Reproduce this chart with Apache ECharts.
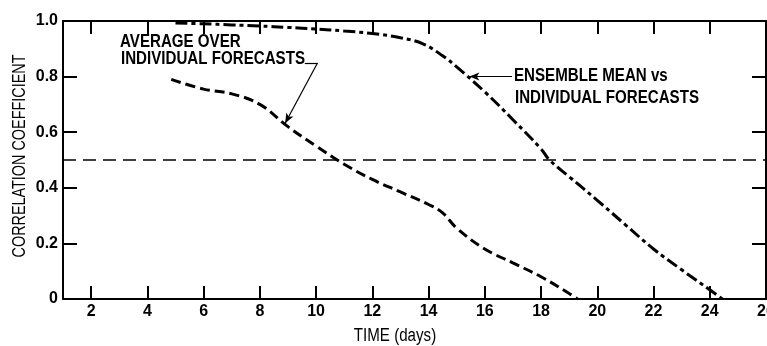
<!DOCTYPE html>
<html lang="en">
<head>
<meta charset="UTF-8">
<title>Correlation coefficient</title>
<style>html,body{margin:0;padding:0;background:#fff}</style>
</head>
<body>
<div id="chart" style="width:767px;height:346px"></div>
<script src="https://cdn.jsdelivr.net/npm/echarts@6/dist/echarts.min.js"></script>
<script>
var font = '"Liberation Sans", Arial, sans-serif';

var xTicks = [2, 4, 6, 8, 10, 12, 14, 16, 18, 20, 22, 24];
var xLabels = [2, 4, 6, 8, 10, 12, 14, 16, 18, 20, 22, 24, 26];

// ensemble mean vs individual forecasts
var ensembleDays = [5, 6, 7, 8, 9, 10, 11, 12, 13, 13.8, 14.5, 15, 16, 17, 18, 18.3, 19, 20, 21, 22, 23, 24, 24.45];
var ensembleCorr = [0.993, 0.99, 0.986, 0.982, 0.977, 0.971, 0.964, 0.955, 0.94, 0.918, 0.875, 0.835, 0.745, 0.645, 0.54, 0.50, 0.44, 0.355, 0.267, 0.18, 0.105, 0.033, 0];

// average over individual forecasts
var averageDays = [4.85, 6, 7, 8, 9, 10, 11, 12, 13, 14, 14.5, 15, 16, 17, 18, 19, 19.3];
var averageCorr = [0.79, 0.755, 0.738, 0.70, 0.62, 0.55, 0.485, 0.43, 0.385, 0.34, 0.31, 0.255, 0.18, 0.13, 0.08, 0.02, 0];

var halfLevel = 0.5;

function pairs(xs, ys) {
    var res = [];
    for (var i = 0; i < xs.length; i++) {
        res.push([xs[i], ys[i]]);
    }
    return res;
}

// condensed looking text: the narrow face is not installed, so squeeze it
function textItem(text, x, y, opts) {
    opts = opts || {};
    return {
        type: 'text', x: x, y: y,
        scaleX: opts.scale || 0.84,
        rotation: opts.rotation || 0,
        style: {
            text: text,
            font: (opts.weight || 'bold') + ' ' + (opts.size || 18) + 'px ' + font,
            fill: '#000',
            align: opts.align || 'left',
            verticalAlign: 'middle'
        }
    };
}

var tickLabel = {color: '#000', fontFamily: font, fontSize: 16, fontWeight: 'bold'};
var frameLine = {show: true, onZero: false, lineStyle: {color: '#000', width: 2}};
var xTick = {show: true, inside: true, length: 13, customValues: xTicks, lineStyle: {color: '#000', width: 2}};
var yTick = {show: true, inside: true, length: 14, lineStyle: {color: '#000', width: 2}};

var chart = echarts.init(document.getElementById('chart'));

var option = {
    backgroundColor: '#fff',
    animation: false,
    grid: {left: 63, top: 21, width: 703, height: 278, outerBoundsMode: 'none'},
    xAxis: [
        {
            type: 'value', min: 1, max: 26, position: 'bottom',
            axisLine: frameLine,
            axisTick: xTick,
            axisLabel: Object.assign({customValues: xLabels, margin: 5}, tickLabel),
            splitLine: {show: false}
        },
        {
            type: 'value', min: 1, max: 26, position: 'top',
            axisLine: frameLine,
            axisTick: xTick,
            axisLabel: {show: false},
            splitLine: {show: false}
        }
    ],
    yAxis: [
        {
            type: 'value', min: 0, max: 1, interval: 0.2, position: 'left',
            axisLine: frameLine,
            axisTick: yTick,
            axisLabel: Object.assign({
                margin: 5,
                formatter: function (v) { return v === 0 ? '0' : v.toFixed(1); }
            }, tickLabel),
            splitLine: {show: false}
        },
        {
            type: 'value', min: 0, max: 1, interval: 0.2, position: 'right',
            axisLine: frameLine,
            axisTick: yTick,
            axisLabel: {show: false},
            splitLine: {show: false}
        }
    ],
    series: [
        {
            name: 'ENSEMBLE MEAN vs INDIVIDUAL FORECASTS',
            type: 'line',
            data: pairs(ensembleDays, ensembleCorr),
            smooth: 0.4,
            symbol: 'none',
            lineStyle: {color: '#000', width: 3, type: [12, 4, 4, 4]},
            markLine: {
                silent: true,
                symbol: 'none',
                label: {show: false},
                lineStyle: {color: '#000', width: 1.2, type: 'solid'},
                data: [
                    {yAxis: halfLevel, lineStyle: {color: '#000', width: 1.5, type: [13, 7]}},
                    [
                        {coord: [16.97, 0.80], symbol: 'none'},
                        {coord: [15.45, 0.80], symbol: 'arrow', symbolSize: [6, 10]}
                    ]
                ]
            }
        },
        {
            name: 'AVERAGE OVER INDIVIDUAL FORECASTS',
            type: 'line',
            data: pairs(averageDays, averageCorr),
            smooth: 0.4,
            symbol: 'none',
            lineStyle: {color: '#000', width: 3, type: [10, 5]},
            markLine: {
                silent: true,
                symbol: 'none',
                label: {show: false},
                lineStyle: {color: '#000', width: 1.2, type: 'solid'},
                data: [
                    [
                        {coord: [9.6, 0.849], symbol: 'none'},
                        {coord: [10.05, 0.849], symbol: 'none'}
                    ],
                    [
                        {coord: [10.05, 0.849], symbol: 'none'},
                        {coord: [8.9, 0.632], symbol: 'arrow', symbolSize: [6, 10]}
                    ]
                ]
            }
        }
    ],
    graphic: [
        textItem('AVERAGE OVER', 120, 42),
        textItem('INDIVIDUAL FORECASTS', 121, 59),
        textItem('ENSEMBLE MEAN vs', 514, 76.5),
        textItem('INDIVIDUAL FORECASTS', 515, 98.5),
        textItem('TIME (days)', 395, 336, {align: 'center', weight: 'normal'}),
        textItem('CORRELATION COEFFICIENT', 20, 156, {align: 'center', weight: 'normal', scale: 0.8, rotation: Math.PI / 2})
    ]
};

chart.setOption(option);
</script>
</body>
</html>
